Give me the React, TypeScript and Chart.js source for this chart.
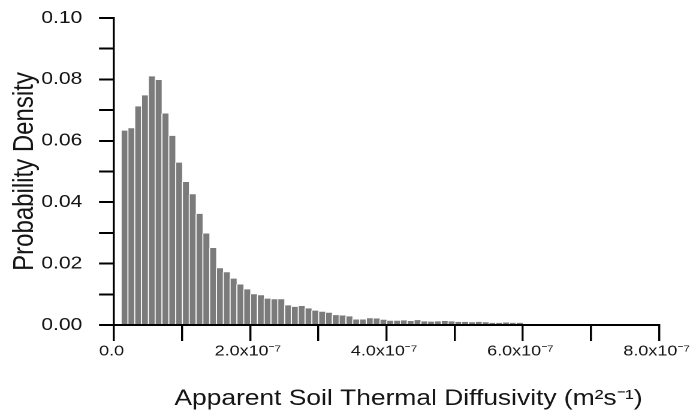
import React, { useEffect, useRef } from "react";
import { Chart, registerables } from "chart.js";

Chart.register(...registerables);

// Histogram bins: centre of each bin, in units of 1e-8 m^2 s^-1 (bin width 1e-8)
const binCentresE8 = [
  1.5, 2.5, 3.5, 4.5, 5.5, 6.5, 7.5, 8.5, 9.5, 10.5,
  11.5, 12.5, 13.5, 14.5, 15.5, 16.5, 17.5, 18.5, 19.5, 20.5,
  21.5, 22.5, 23.5, 24.5, 25.5, 26.5, 27.5, 28.5, 29.5, 30.5,
  31.5, 32.5, 33.5, 34.5, 35.5, 36.5, 37.5, 38.5, 39.5, 40.5,
  41.5, 42.5, 43.5, 44.5, 45.5, 46.5, 47.5, 48.5, 49.5, 50.5,
  51.5, 52.5, 53.5, 54.5, 55.5, 56.5, 57.5, 58.5, 59.5,
];

// Probability density of each bin
const density = [
  0.0633, 0.0641, 0.0712, 0.0748, 0.081, 0.0798, 0.0689, 0.0616, 0.0529, 0.0466,
  0.0426, 0.0362, 0.0298, 0.0251, 0.0185, 0.0172, 0.0151, 0.0132, 0.0116, 0.01,
  0.0097, 0.0086, 0.0084, 0.0084, 0.0064, 0.0059, 0.0062, 0.0054, 0.0047, 0.0043,
  0.004, 0.0032, 0.0031, 0.0028, 0.0018, 0.0018, 0.0022, 0.0021, 0.0017, 0.0014,
  0.0014, 0.0015, 0.0013, 0.0016, 0.0012, 0.0011, 0.0012, 0.0013, 0.0012, 0.001,
  0.001, 0.0009, 0.001, 0.0009, 0.0007, 0.0007, 0.0008, 0.0007, 0.0007,
];

const xTickLabels = ["0.0", "", "2.0x10⁻⁷", "", "4.0x10⁻⁷", "", "6.0x10⁻⁷", "", "8.0x10⁻⁷"];
const yTickLabels = ["0.00", "", "0.02", "", "0.04", "", "0.06", "", "0.08", "", "0.10"];
const xTitle = "Apparent Soil Thermal Diffusivity (m²s⁻¹)";
const yTitle = "Probability Density";

const W = 693;
const H = 418;
const LW = 578; // logical canvas width (stretched horizontally to W like the source figure)
const SX = W / LW;
const FONT = "'Liberation Sans', Arial, Helvetica, sans-serif";
const TEXT = "#151515";

export default function App() {
  const ref = useRef<HTMLCanvasElement | null>(null);

  useEffect(() => {
    document.body.style.margin = "0";
    const canvas = ref.current;
    if (!canvas) return;
    const chart = new Chart(canvas, {
      type: "bar",
      data: {
        datasets: [
          {
            data: binCentresE8.map((c, i) => ({ x: c * 1e-8, y: density[i] })),
            backgroundColor: "#7b7b7b",
            borderColor: "rgba(255,255,255,0.8)",
            borderWidth: { left: 1, right: 0, top: 0, bottom: 0 },
            barPercentage: 1,
            categoryPercentage: 1,
          } as any,
        ],
      },
      options: {
        responsive: false,
        animation: false,
        devicePixelRatio: 2,
        layout: { padding: { left: 0, right: LW - 659 / SX, top: 18, bottom: 0 } },
        plugins: { legend: { display: false }, tooltip: { enabled: false } },
        scales: {
          x: {
            type: "linear",
            min: 0,
            max: 8e-7,
            offset: false,
            grid: {
              offset: false,
              drawOnChartArea: false,
              drawTicks: true,
              tickLength: 16,
              color: "#000",
              lineWidth: 1.7,
            },
            border: { display: true, color: "#000", width: 2 },
            ticks: {
              stepSize: 1e-7,
              autoSkip: false,
              maxRotation: 0,
              minRotation: 0,
              padding: 1.5,
              labelOffset: -2,
              color: TEXT,
              font: { family: FONT, size: 15 },
              callback: (_v: any, i: number) => xTickLabels[i] ?? "",
            },
            title: {
              display: true,
              text: "      " + xTitle,
              color: TEXT,
              font: { family: FONT, size: 22 },
              padding: { top: 0, bottom: 6 },
            },
            afterFit: (s: any) => {
              s.height = H - 325;
              s.paddingLeft = 0;
              s.paddingRight = 0;
            },
          },
          y: {
            type: "linear",
            min: 0,
            max: 0.1,
            grid: {
              drawOnChartArea: false,
              drawTicks: true,
              tickLength: 12.5,
              color: "#000",
              lineWidth: 2,
            },
            border: { display: true, color: "#000", width: 1.7 },
            ticks: {
              stepSize: 0.01,
              autoSkip: false,
              padding: 14,
              color: TEXT,
              font: { family: FONT, size: 17.5 },
              callback: (_v: any, i: number) => yTickLabels[i] ?? "",
            },
            title: {
              display: true,
              text: yTitle,
              color: TEXT,
              font: { family: FONT, size: 24 },
              padding: { top: 6.5, bottom: 0 },
            },
            afterFit: (s: any) => {
              s.width = 114 / SX;
              s.paddingTop = 0;
              s.paddingBottom = 0;
            },
          },
        },
      } as any,
    });
    return () => chart.destroy();
  }, []);

  return (
    <div style={{ width: W, height: H, background: "#fff" }}>
      <canvas
        ref={ref}
        width={LW}
        height={H}
        style={{ width: `${W}px`, height: `${H}px`, display: "block" }}
      />
    </div>
  );
}
